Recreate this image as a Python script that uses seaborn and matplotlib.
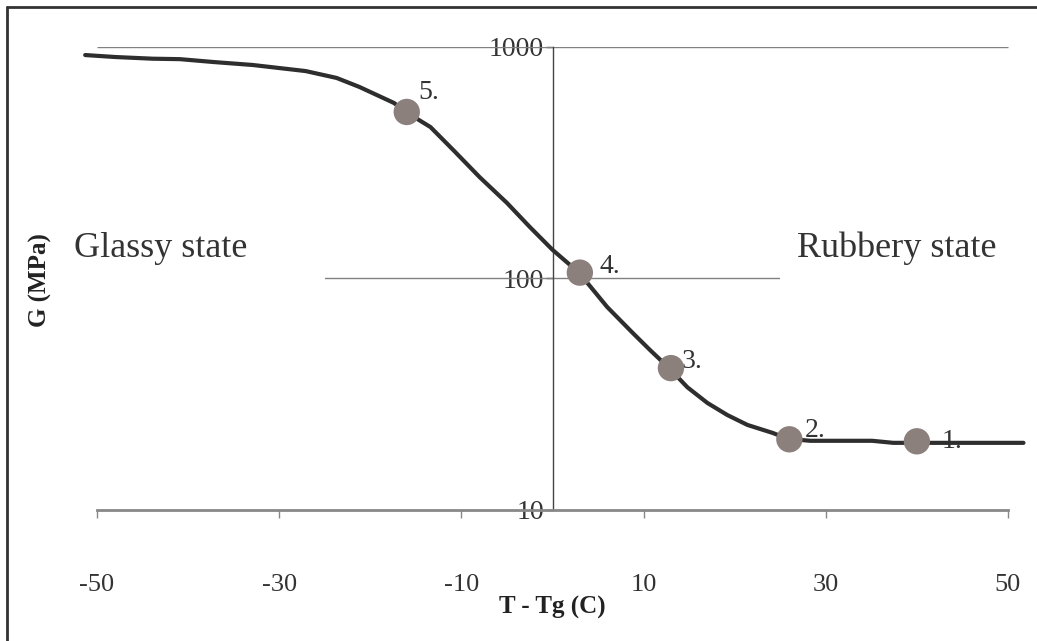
import numpy as np
import pandas as pd
import matplotlib
matplotlib.use("Agg")
import matplotlib.pyplot as plt
from matplotlib.lines import Line2D
from matplotlib.patches import Rectangle
import seaborn as sns

# modulus curve
t_curve = [-51.3, -48.0, -43.9, -40.9, -37.2, -32.9, -27.1, -23.7, -21.2, -17.4, -16.1,
           -13.4, -10.9, -8.0, -5.0, -2.5, 0.0, 2.9, 6.0, 8.8, 10.7, 12.8, 14.8, 17.0,
           19.2, 21.4, 24.2, 25.8, 28.3, 35.1, 37.4, 51.7]
g_curve = [923, 905, 890, 886, 861, 836, 787, 735, 672, 573, 524,
           451, 359, 274, 212, 167, 133, 106, 75.3, 58.2, 49.1, 41.0, 33.9, 29.0,
           25.7, 23.3, 21.5, 20.3, 19.9, 19.9, 19.5, 19.5]

# numbered points
t_pts = [40, 26, 13, 3, -16]
g_pts = [19.8, 20.2, 41.0, 106, 524]
pt_labels = ["1.", "2.", "3.", "4.", "5."]
x_ticks = [-50, -30, -10, 10, 30, 50]
y_ticks = [10, 100, 1000]

curve = pd.DataFrame({"t": t_curve, "G": g_curve})
pts = pd.DataFrame({"t": t_pts, "G": g_pts})

sns.set_style("white")
plt.rcParams["font.family"] = ["Liberation Serif", "DejaVu Serif"]

fig = plt.figure(figsize=(10.37, 6.41), dpi=100)
ax = fig.add_axes([0.076, 0.2044, 0.9136, 0.7223])

ax.set_yscale("log")
ax.set_xlim(-52, 52)
ax.set_ylim(10, 1000)

# grid lines only between -50 and 50
ax.hlines([100, 1000], -50, 50, color="#808080", lw=1, zorder=1)

sns.lineplot(data=curve, x="t", y="G", sort=False, estimator=None, ax=ax,
             color="#2e2e2e", lw=3, zorder=4, clip_on=False)
sns.scatterplot(data=pts, x="t", y="G", ax=ax, s=360, color="#8c807d",
                edgecolor="none", zorder=5, clip_on=False)

offsets = [(18, -5), (11, 2), (8, 0), (14, 0), (8, 9)]
for t, g, lab, off in zip(t_pts, g_pts, pt_labels, offsets):
    ax.annotate(lab, (t, g), xytext=off, textcoords="offset points",
                fontsize=20, color="#333333", ha="left", va="baseline", zorder=3)

ax.spines["top"].set_visible(False)
ax.spines["right"].set_visible(False)
ax.spines["left"].set_position(("data", 0))
ax.spines["left"].set_color("#444444")
ax.spines["left"].set_linewidth(1)
ax.spines["bottom"].set_bounds(-50, 50)
ax.spines["bottom"].set_color("#888888")
ax.spines["bottom"].set_linewidth(2)

ax.set_xticks(x_ticks)
ax.set_xticklabels([str(v) for v in x_ticks])
ax.set_yticks(y_ticks)
ax.set_yticklabels([str(v) for v in y_ticks])
ax.yaxis.set_minor_locator(matplotlib.ticker.NullLocator())
ax.tick_params(axis="x", direction="out", length=6, width=1, color="#888888",
               pad=40, labelsize=19, labelcolor="#333333", bottom=True)
ax.tick_params(axis="y", direction="out", length=5, width=1, color="#444444",
               pad=1, labelsize=20, labelcolor="#333333", left=True)

ax.set_xlabel("T - Tg (C)", fontsize=18, fontweight="bold", color="#222222")
ax.xaxis.set_label_coords(0.5, -0.185)
ax.set_ylabel("G (MPa)", fontsize=18, fontweight="bold", color="#222222")
ax.yaxis.set_label_coords(-0.028, 0.497)

# white text boxes over the chart, hiding part of the 100 grid line
W, H = 1037.0, 641.0
def box(x0, x1, y0, y1):
    fig.add_artist(Rectangle((x0 / W, 1 - y1 / H), (x1 - x0) / W, (y1 - y0) / H,
                             transform=fig.transFigure, facecolor="white",
                             edgecolor="none", zorder=2))
box(60, 325, 228, 300)
box(780, 1037, 228, 300)
fig.text(74 / W, 1 - 257 / H, "Glassy state", fontsize=26, color="#333333",
         ha="left", va="baseline", zorder=3)
fig.text(797 / W, 1 - 257 / H, "Rubbery state", fontsize=26, color="#333333",
         ha="left", va="baseline", zorder=3)

# outer frame (top and left edges visible)
fig.add_artist(Line2D([7 / W, 7 / W], [0, 1 - 7 / H], transform=fig.transFigure,
                      color="#333333", lw=2))
fig.add_artist(Line2D([7 / W, 1], [1 - 7 / H, 1 - 7 / H], transform=fig.transFigure,
                      color="#333333", lw=2))

fig.savefig("out.png", dpi=100, facecolor="white")
